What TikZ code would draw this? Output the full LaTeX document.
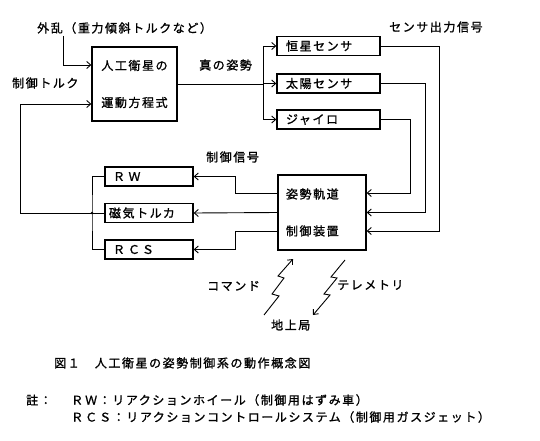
\documentclass[tikz,border=0pt]{standalone}
\usepackage{fontspec}
\setmainfont{Noto Sans CJK JP}[LetterSpace=13, FakeBold=1.2]
\usetikzlibrary{arrows.meta}
\begin{document}
\begin{tikzpicture}[x=1pt,y=-1pt,
  every node/.style={font=\fontsize{12}{14}\selectfont, inner sep=0pt},
  box/.style={draw, line width=1.3pt},
  sensor/.style={box, minimum height=19pt, text width=85pt, inner xsep=9pt, align=left},
  act/.style={box, minimum height=19pt, text width=80pt, inner xsep=4pt, align=left},
  lbl/.style={anchor=west},
  ln/.style={line width=0.9pt},
  arr/.style={ln, -{Straight Barb[length=4pt,width=7pt]}},
]
\useasboundingbox[fill=white] (0,0) rectangle (540,441);

% main blocks
\node[box, minimum width=85pt, minimum height=74pt, align=center] (eq) at (134.5,84) {人工衛星の\\[23pt]運動方程式};
\node[sensor] (star) at (328.5,46) {恒星センサ};
\node[sensor] (sun) at (328.5,83.5) {太陽センサ};
\node[sensor] (gyro) at (328.5,119.5) {ジャイロ};
\node[box, minimum height=75pt, text width=72pt, inner xsep=8pt, align=left] (ctrl) at (322,212.5) {姿勢軌道\\[23pt]制御装置};
\node[act] (rw) at (149,176.5) {\hspace{4pt}Ｒ\hspace{3.5pt}Ｗ};
\node[act] (mt) at (149,213) {磁気トルカ};
\node[act] (rcs) at (149,249.5) {\hspace{4pt}Ｒ\hspace{3pt}Ｃ\hspace{2pt}Ｓ};

% labels
\node[lbl] (dist) at (37,28) {外乱（重力傾斜トルクなど）};
\node[lbl] (ctq) at (12,83) {制御トルク};
\node[lbl] (att) at (199,65) {真の姿勢};
\node[lbl] (sig) at (389,27) {センサ出力信号};
\node[lbl] (csig) at (206,157) {制御信号};
\node[lbl] (cmd) at (207,286) {コマンド};
\node[lbl] (tlm) at (337,285) {テレメトリ};
\node[lbl] (gs) at (271,325) {地上局};
\node[lbl] (cap) at (54,363) {図１　人工衛星の姿勢制御系の動作概念図};
\node[lbl] (note) at (26,400) {註：};
\node[lbl] (n1) at (71,400) {Ｒ\hspace{2pt}Ｗ：リアクションホイール（制御用はずみ車）};
\node[lbl] (n2) at (71,417) {Ｒ\hspace{2pt}Ｃ\hspace{2pt}Ｓ：リアクションコントロールシステム（制御用ガスジェット）};

% disturbance and feedback
\coordinate (d0) at (63,36);
\draw[arr] (d0) |- ([yshift=19pt]eq.west);
\coordinate (jn) at (92,213);
\draw[ln] (rw.west) -| (jn) |- (rcs.west);
\draw[ln] (mt.west) -- (jn);
\fill (jn) circle (1.4pt);
\draw[arr] (jn) -- (20,213) |- ([yshift=-20pt]eq.west);

% true attitude to sensors
\coordinate (br) at (263,84);
\draw[ln] (eq.east) -- (br);
\draw[arr] (br) |- (star.west);
\draw[arr] (br) |- (sun.west);
\draw[arr] (br) |- (gyro.west);

% sensor outputs to controller
\draw[arr] (star.east) -| ([xshift=73pt,yshift=-18.5pt]ctrl.east) -- ([yshift=-18.5pt]ctrl.east);
\draw[arr] (sun.east) -| ([xshift=59pt]ctrl.east) -- (ctrl.east);
\draw[arr] (gyro.east) -| ([xshift=44pt,yshift=19.5pt]ctrl.east) -- ([yshift=19.5pt]ctrl.east);

% control signals to actuators
\draw[arr] ([yshift=19.5pt]ctrl.west) -- ([xshift=-42pt,yshift=19.5pt]ctrl.west) |- (rw.east);
\draw[arr] (ctrl.west) -- (mt.east);
\draw[arr] ([yshift=-18.5pt]ctrl.west) -- ([xshift=-42pt,yshift=-18.5pt]ctrl.west) |- (rcs.east);

% command link (ground -> satellite)
\coordinate (c0) at (264,315);
\coordinate (c1) at (279,296);
\coordinate (c2) at (272,294);
\coordinate (c3) at (284,278);
\coordinate (c4) at (278,276);
\coordinate (c5) at (293,259);
\draw[arr] (c0) -- (c1) -- (c2) -- (c3) -- (c4) -- (c5);
% telemetry link (satellite -> ground)
\coordinate (t0) at (345,260);
\coordinate (t1) at (331,277);
\coordinate (t2) at (337,278);
\coordinate (t3) at (324,294);
\coordinate (t4) at (330,295);
\coordinate (t5) at (313,315);
\draw[arr] (t0) -- (t1) -- (t2) -- (t3) -- (t4) -- (t5);
\end{tikzpicture}
\end{document}
